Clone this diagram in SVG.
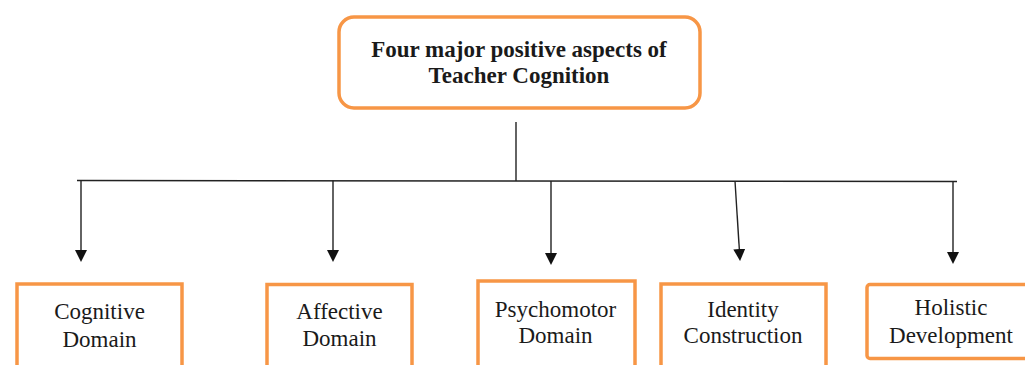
<svg xmlns="http://www.w3.org/2000/svg" width="1025" height="365" viewBox="0 0 1025 365">
<defs>
<style>
.box{fill:#fff;stroke:#F79646;stroke-width:3.5}
.t{font-family:'Liberation Serif','Times New Roman',serif;font-size:23px;fill:#1a1a1a;text-anchor:middle}
.b{font-weight:bold}
.ln{stroke:#222;stroke-width:1.4;fill:none}
</style>
<marker id="ah" viewBox="0 0 12 12" refX="0" refY="6" markerWidth="12" markerHeight="12" markerUnits="userSpaceOnUse" orient="auto">
<path d="M0,0 L12,6 L0,12 z" fill="#111"/>
</marker>
</defs>
<rect width="1025" height="365" fill="#fff"/>
<g id="connectors">
<line class="ln" x1="516" y1="122" x2="516" y2="181"/>
<line class="ln" x1="77" y1="180.5" x2="957" y2="181.5"/>
<line class="ln" x1="81" y1="180.5" x2="81" y2="250" marker-end="url(#ah)"/>
<line class="ln" x1="333" y1="180.5" x2="333" y2="250" marker-end="url(#ah)"/>
<line class="ln" x1="551" y1="181" x2="551" y2="253" marker-end="url(#ah)"/>
<line class="ln" x1="735" y1="181" x2="739.3" y2="249" marker-end="url(#ah)"/>
<line class="ln" x1="953" y1="181.5" x2="953" y2="252" marker-end="url(#ah)"/>
</g>
<g id="root">
<rect class="box" x="339" y="17" width="361" height="91" rx="15"/>
<text class="t b" x="519" y="57">Four major positive aspects of</text>
<text class="t b" x="519" y="83">Teacher Cognition</text>
</g>
<g id="cognitive">
<rect class="box" x="17" y="284" width="165" height="100"/>
<text class="t" x="99.5" y="319">Cognitive</text>
<text class="t" x="99.5" y="347">Domain</text>
</g>
<g id="affective">
<rect class="box" x="267" y="284.5" width="145" height="100"/>
<text class="t" x="339.5" y="319">Affective</text>
<text class="t" x="339.5" y="346">Domain</text>
</g>
<g id="psychomotor">
<rect class="box" x="478" y="281" width="157" height="100"/>
<text class="t" x="555.5" y="317">Psychomotor</text>
<text class="t" x="555.5" y="343">Domain</text>
</g>
<g id="identity">
<rect class="box" x="661" y="284" width="165" height="100"/>
<text class="t" x="743" y="317">Identity</text>
<text class="t" x="743" y="343">Construction</text>
</g>
<g id="holistic">
<rect class="box" x="867" y="284.5" width="170" height="74" rx="3"/>
<text class="t" x="951" y="315">Holistic</text>
<text class="t" x="951" y="343">Development</text>
</g>
</svg>
